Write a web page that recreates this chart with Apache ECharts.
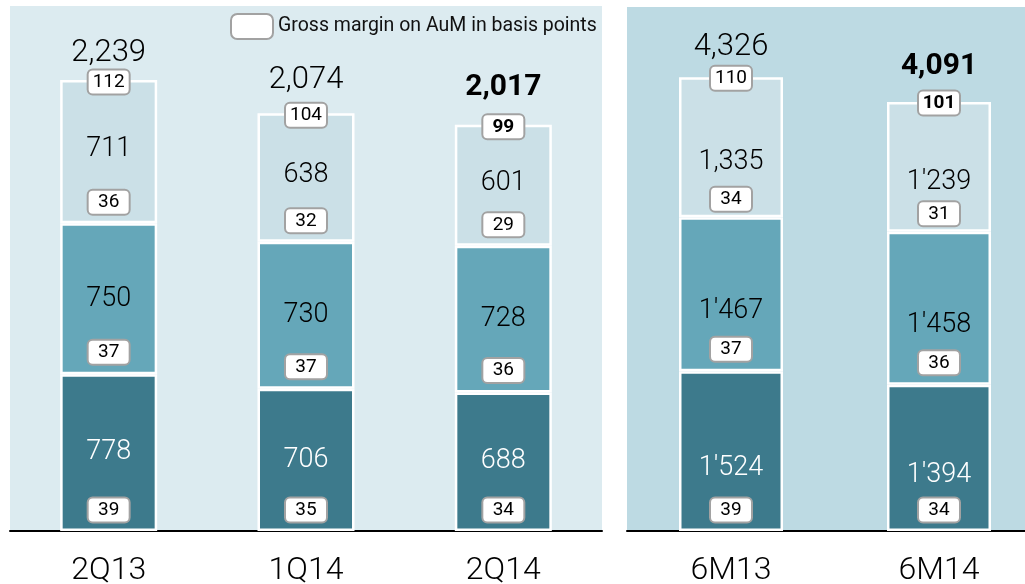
<!DOCTYPE html>
<html>
<head>
<meta charset="utf-8">
<script src="https://cdn.jsdelivr.net/npm/echarts@6/dist/echarts.min.js"></script>
<style>html,body{margin:0;padding:0;background:#fff;}#c{width:1025px;height:584px;}</style>
</head>
<body>
<div id="c"></div>
<script>
// ---- data ----
const catsQ = ['2Q13', '1Q14', '2Q14'];
const darkQ = [778, 706, 688];
const medQ = [750, 730, 728];
const lightQ = [711, 638, 601];
const bpDarkQ = [39, 35, 34];
const bpMedQ = [37, 37, 36];
const bpLightQ = [36, 32, 29];
const bpTotalQ = [112, 104, 99];

const catsH = ['6M13', '6M14'];
const darkH = [1524, 1394];
const medH = [1467, 1458];
const lightH = [1335, 1239];
const bpDarkH = [39, 34];
const bpMedH = [37, 36];
const bpLightH = [34, 31];
const bpTotalH = [110, 101];
// printed label texts of the right panel (as in the source)
const darkHText = ["1'524", "1'394"];
const medHText = ["1'467", "1'458"];
const lightHText = ["1,335", "1'239"];
const totalHText = ["4,326", "4,091"];

const boldQ = 2, boldH = 1;
const LEG = 'Gross margin on AuM in basis points';

// ---- styles ----
const FONT = 'Roboto';
const C_DARK = '#3d7a8c', C_MED = '#65a7b9', C_LIGHT = '#cbe0e7';
const totalOffQ = [-27, -33, -37];
const totalOffH = [-30, -35];
const fmt = v => v.toLocaleString('en-US');

const chart = echarts.init(document.getElementById('c'));

function barSeries(name, data, color, textColor, axis, texts, dy) {
  return {
    type: 'bar', name: name, stack: 's' + axis, xAxisIndex: axis, yAxisIndex: axis,
    data: data, barWidth: axis === 0 ? 97 : 104,
    itemStyle: { color: color, borderColor: '#fff', borderWidth: 2.5 },
    label: {
      show: true, position: 'inside', offset: [0, dy],
      fontFamily: FONT, fontWeight: 300, fontSize: 27, color: textColor,
      formatter: p => texts ? texts[p.dataIndex] : fmt(p.value)
    },
    silent: true
  };
}

const boxLabel = {
  show: true, position: 'inside', fontFamily: FONT, fontWeight: 400, fontSize: 19, color: '#000',
  width: 40, height: 23, lineHeight: 23, align: 'center', verticalAlign: 'middle',
  backgroundColor: '#ffffff', borderColor: '#a2a2a2', borderWidth: 2, borderRadius: 4, padding: 0,
  opacity: 1
};

function boxSeries(axis, bottoms, bps, dy, boldIdx) {
  return {
    type: 'scatter', name: LEG, xAxisIndex: axis, yAxisIndex: axis, z: 6,
    symbolSize: 1, itemStyle: { color: 'rgba(0,0,0,0)', opacity: 1 }, silent: true,
    data: bottoms.map((b, i) => ({
      value: [i, b],
      label: i === boldIdx ? { fontWeight: 'bold' } : undefined
    })),
    label: Object.assign({}, boxLabel, {
      offset: [0, dy],
      formatter: p => String(bps[p.dataIndex])
    })
  };
}

function totalSeries(axis, totals, texts, boldIdx, offs) {
  return {
    type: 'scatter', name: 'total' + axis, xAxisIndex: axis, yAxisIndex: axis, z: 6,
    symbolSize: 1, itemStyle: { color: 'rgba(0,0,0,0)', opacity: 1 }, silent: true,
    data: totals.map((t, i) => ({
      value: [i, t],
      label: Object.assign({ offset: [0, offs[i]] }, i === boldIdx ? { fontWeight: 'bold', fontSize: 30 } : {})
    })),
    label: {
      show: true, position: 'inside',
      fontFamily: FONT, fontWeight: 300, fontSize: 31, color: '#000',
      formatter: p => texts[p.dataIndex]
    }
  };
}

const totQ = darkQ.map((d, i) => d + medQ[i] + lightQ[i]);
const totH = darkH.map((d, i) => d + medH[i] + lightH[i]);

const series = [
  barSeries('dark', darkQ, C_DARK, '#fff', 0, null, 0),
  barSeries('med', medQ, C_MED, '#000', 0, null, 0),
  barSeries('light', lightQ, C_LIGHT, '#000', 0, null, -2),
  barSeries('dark', darkH, C_DARK, '#fff', 1, darkHText, 17),
  barSeries('med', medH, C_MED, '#000', 1, medHText, 17),
  barSeries('light', lightH, C_LIGHT, '#000', 1, lightHText, 15),
  boxSeries(0, darkQ.map(() => 0), bpDarkQ, -21),
  boxSeries(0, darkQ, bpMedQ, -22),
  boxSeries(0, darkQ.map((d, i) => d + medQ[i]), bpLightQ, -21),
  boxSeries(0, totQ, bpTotalQ, 2, boldQ),
  boxSeries(1, darkH.map(() => 0), bpDarkH, -21),
  boxSeries(1, darkH, bpMedH, -22),
  boxSeries(1, darkH.map((d, i) => d + medH[i]), bpLightH, -18),
  boxSeries(1, totH, bpTotalH, 1, boldH),
  totalSeries(0, totQ, totQ.map(fmt), boldQ, totalOffQ),
  totalSeries(1, totH, totalHText, boldH, totalOffH)
];

const xCommon = {
  type: 'category',
  axisLine: { show: true, lineStyle: { color: '#000', width: 2 } },
  axisTick: { show: false },
  axisLabel: { fontFamily: FONT, fontWeight: 300, fontSize: 32, color: '#000', margin: 24 },
  splitLine: { show: false }
};
const yCommon = { type: 'value', min: 0, show: false, splitLine: { show: false } };

chart.setOption({
  animation: false,
  backgroundColor: '#fff',
  graphic: [
    { type: 'rect', shape: { x: 10, y: 6, width: 592, height: 525 }, style: { fill: '#dcebf0' }, z: -10, silent: true },
    { type: 'rect', shape: { x: 627, y: 7, width: 398, height: 524 }, style: { fill: '#bddae3' }, z: -10, silent: true }
  ],
  legend: {
    data: [{ name: LEG, icon: 'roundRect', itemStyle: { color: '#ffffff', borderColor: '#a2a2a2', borderWidth: 2, opacity: 1 } }],
    left: 225, top: 8, itemWidth: 42, itemHeight: 25, itemGap: 6, selectedMode: false,
    textStyle: { fontFamily: FONT, fontWeight: 400, fontSize: 19.5, color: '#111' }
  },
  grid: [
    { left: 10, width: 592, top: 27.5, bottom: 53, containLabel: false, outerBoundsMode: 'none' },
    { left: 627, width: 416, top: 59, bottom: 53, containLabel: false, outerBoundsMode: 'none' }
  ],
  xAxis: [
    Object.assign({}, xCommon, { gridIndex: 0, data: catsQ }),
    Object.assign({}, xCommon, { gridIndex: 1, data: catsH })
  ],
  yAxis: [
    Object.assign({}, yCommon, { gridIndex: 0, max: 2500 }),
    Object.assign({}, yCommon, { gridIndex: 1, max: 4500 })
  ],
  series: series
});
</script>
</body>
</html>
